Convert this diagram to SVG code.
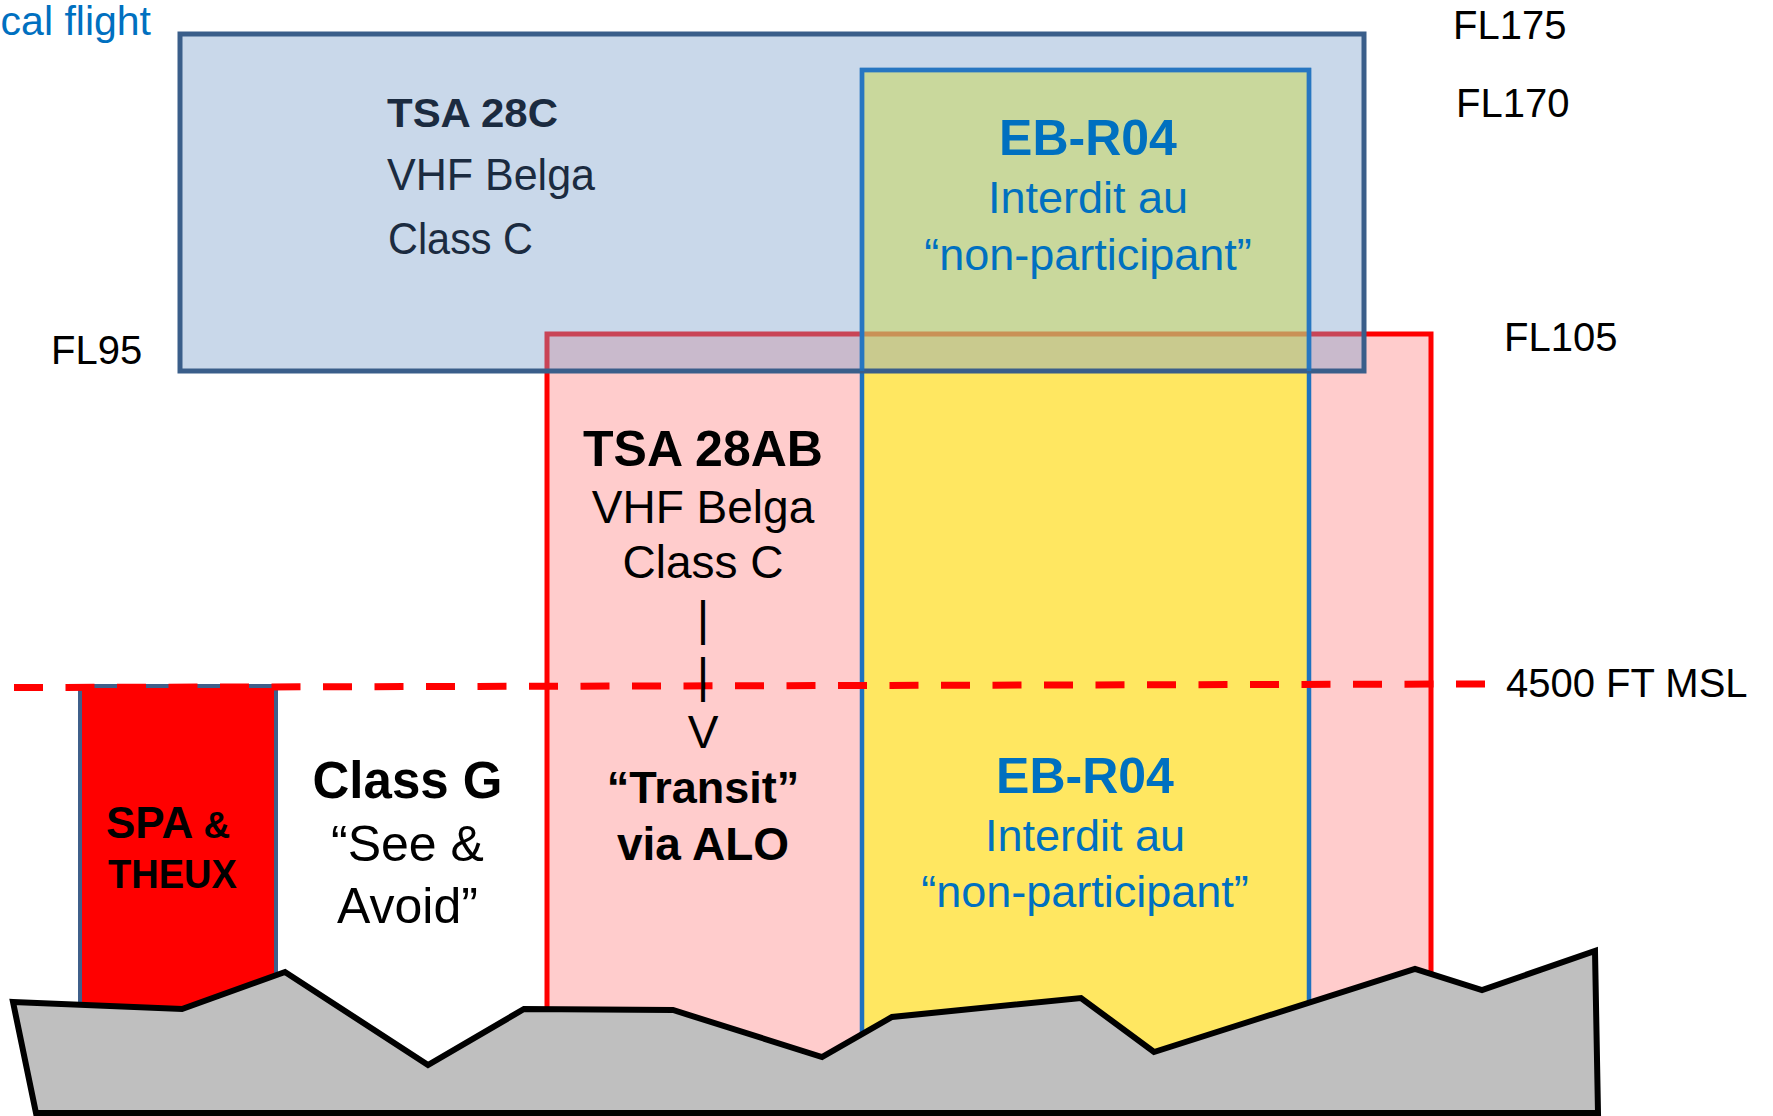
<svg xmlns="http://www.w3.org/2000/svg" width="1773" height="1116" viewBox="0 0 1773 1116">
<style>
text{font-family:"Liberation Sans",Arial,sans-serif}
.fl{font-size:40px;fill:#000}
.eb{fill:#0070C0;text-anchor:middle}
.ebt{font-size:50px;font-weight:bold}
.ebs{font-size:45px}
.blk{fill:#000;text-anchor:middle}
.calib{font-family:Lato,"Open Sans",sans-serif;fill:#1B2B40}
</style>
<rect width="1773" height="1116" fill="#fff"/>
<text x="151" y="35" font-size="41" fill="#0070C0" text-anchor="end">cal flight</text>

<g id="tsa28ab">
<rect x="547" y="334" width="884" height="776" fill="#FFCCCC" stroke="#FF0000" stroke-width="5"/>
</g>
<g id="ebr04">
<rect x="862" y="70" width="447" height="1040" fill="#FFFF00" fill-opacity="0.525" stroke="#1F72BF" stroke-width="4.5"/>
</g>
<g id="tsa28c">
<rect x="180" y="34" width="1184" height="337" fill="#7EA2CD" fill-opacity="0.42" stroke="#3A5E8A" stroke-width="5"/>
</g>
<path d="M862 371 V70 H1309 V371" fill="none" stroke="#1F72BF" stroke-width="4.5" stroke-opacity="0.8"/>
<g id="spa-theux">
<rect x="80" y="686" width="196" height="400" fill="#FF0000" stroke="#3F5F8A" stroke-width="4"/>
</g>

<g id="connectors">
<path d="M14 687.5 L1485 684" fill="none" stroke="#FF0000" stroke-width="7" stroke-dasharray="29 22.5"/>
</g>

<g id="terrain">
<polygon points="13,1002 182,1009 285,972 428,1065 524,1009 673,1010 822,1057 892,1017 1081,998 1154,1052 1415,969 1482,990 1595,951 1598,1113 36,1113" fill="#BFBFBF" stroke="#000" stroke-width="6" stroke-linejoin="miter"/>
</g>

<g id="tsa28c-label" class="calib">
<text x="387" y="127" font-size="40" font-weight="bold" textLength="171" lengthAdjust="spacingAndGlyphs">TSA 28C</text>
<text x="387" y="190" font-size="44" textLength="208" lengthAdjust="spacingAndGlyphs">VHF Belga</text>
<text x="388" y="254" font-size="44" textLength="145" lengthAdjust="spacingAndGlyphs">Class C</text>
</g>

<g id="ebr04-upper-label" class="eb">
<text x="1088" y="155" class="ebt">EB-R04</text>
<text x="1088" y="213" class="ebs">Interdit au</text>
<text x="1088" y="270" class="ebs">“non-participant”</text>
</g>

<g id="ebr04-lower-label" class="eb">
<text x="1085" y="793" class="ebt">EB-R04</text>
<text x="1085" y="851" class="ebs">Interdit au</text>
<text x="1085" y="907" class="ebs">“non-participant”</text>
</g>

<g id="tsa28ab-label" class="blk">
<text x="703" y="466" font-size="50" font-weight="bold">TSA 28AB</text>
<text x="703" y="523" font-size="46">VHF Belga</text>
<text x="703" y="578" font-size="46">Class C</text>
<text x="703" y="635" font-size="48">|</text>
<text x="703" y="692" font-size="48">|</text>
<text x="703" y="748" font-size="46">V</text>
<text x="703" y="803" font-size="45" font-weight="bold">“Transit”</text>
<text x="703" y="860" font-size="46" font-weight="bold">via ALO</text>
</g>

<g id="classg-label" class="blk">
<text x="407.5" y="798" font-size="51" font-weight="bold">Class G</text>
<text x="407.5" y="861" font-size="50">“See &amp;</text>
<text x="407.5" y="923" font-size="50">Avoid”</text>
</g>

<g id="spa-label">
<text x="106" y="838" font-weight="bold" fill="#000"><tspan font-size="44">SPA</tspan><tspan font-size="37"> &amp;</tspan></text>
<text x="108" y="888" font-size="40" font-weight="bold" fill="#000" textLength="129" lengthAdjust="spacingAndGlyphs">THEUX</text>
</g>

<g id="levels" class="fl">
<text x="1453" y="39">FL175</text>
<text x="1456" y="117">FL170</text>
<text x="1504" y="351">FL105</text>
<text x="51" y="364">FL95</text>
<text x="1506" y="697">4500 FT MSL</text>
</g>
</svg>
